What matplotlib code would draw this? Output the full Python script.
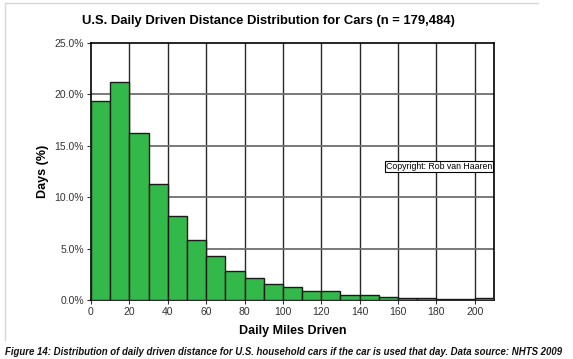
import matplotlib
matplotlib.use("Agg")
import matplotlib.pyplot as plt
import numpy as np

plt.rcParams['font.family'] = ['Liberation Sans', 'DejaVu Sans']

bin_edges = list(range(0, 220, 10))
percent = [19.4, 21.2, 16.2, 11.3, 8.2, 5.8, 4.3, 2.8, 2.15, 1.6, 1.25,
           0.85, 0.85, 0.52, 0.45, 0.32, 0.22, 0.15, 0.1, 0.1, 0.15]
x_ticks = list(range(0, 220, 20))
y_ticks = [0, 5, 10, 15, 20, 25]

fig = plt.figure(figsize=(5.73, 3.59), dpi=100)
ax = fig.add_axes([91/573, 1-300/359, (494-91)/573, (300-43)/359])

lefts = bin_edges[:-1]
ax.bar(lefts, percent, width=10, align='edge', color='#33b84a',
       edgecolor='#1a1a1a', linewidth=1.0, zorder=3)

ax.set_xlim(0, 210)
ax.set_ylim(0, 25)
ax.set_xticks(x_ticks)
ax.set_yticks(y_ticks)
ax.set_yticklabels([f"{v:.1f}%" for v in y_ticks])
for x in x_ticks[1:]:
    ax.axvline(x, color='#2a2a2a', lw=1.0, zorder=1)
for y in y_ticks[1:-1]:
    ax.axhline(y, color='#6e6e6e', lw=1.3, zorder=1)

ax.tick_params(axis='both', labelsize=7.5, colors='#333333', length=3, width=0.8,
               direction='out', pad=2)
for s in ax.spines.values():
    s.set_color('black')
    s.set_linewidth(1.2)

ax.set_xlabel('Daily Miles Driven', fontsize=9, fontweight='bold', labelpad=6)
ax.set_ylabel('Days (%)', fontsize=9, fontweight='bold', labelpad=4)
fig.text(268/573, 1-21/359, 'U.S. Daily Driven Distance Distribution for Cars (n = 179,484)',
         ha='center', va='center', fontsize=9.4, fontweight='bold')

ax.text(0.995, 0.521, 'Copyright: Rob van Haaren', transform=ax.transAxes,
        ha='right', va='center', fontsize=6.3,
        bbox=dict(boxstyle='square,pad=0.12', fc='white', ec='black', lw=0.8), zorder=5)

fig.text(5/573, 1-352/359,
         'Figure 14: Distribution of daily driven distance for U.S. household cars if the car is used that day. Data source: NHTS 2009',
         ha='left', va='center', fontsize=6.9, fontweight='bold', style='italic', color='#111111')

# light frame
fig.add_artist(plt.Line2D([5/573, 5/573], [1-3/359, 1-340/359], transform=fig.transFigure,
                          color='#d8d8d8', lw=1))
fig.add_artist(plt.Line2D([5/573, 538/573], [1-3/359, 1-3/359], transform=fig.transFigure,
                          color='#d8d8d8', lw=1))

fig.savefig('out.png', dpi=100)
